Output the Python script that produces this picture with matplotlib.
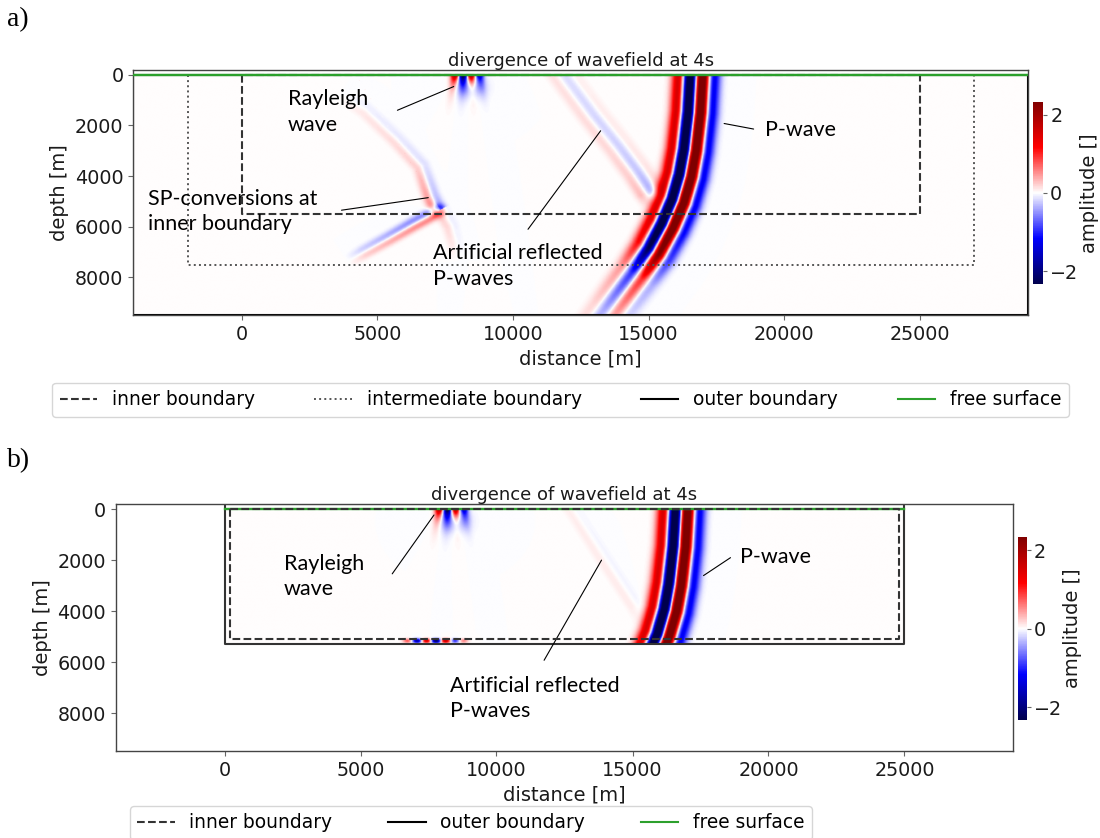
import numpy as np
import matplotlib
matplotlib.use("Agg")
import matplotlib.pyplot as plt
from matplotlib.lines import Line2D

# ---------------- model geometry (metres) ----------------
x_lim = (-4000, 29000)
z_lim = (9500, -190)
x_ticks = [0, 5000, 10000, 15000, 20000, 25000]
z_ticks = [0, 2000, 4000, 6000, 8000]
cbar_ticks = [-2, 0, 2]

# boundaries: (x0, x1, z0, z1)
inner_a = (0, 25000, 0, 5500)
intermediate_a = (-2000, 27000, 0, 7500)
outer_a = (-4000, 29000, 0, 9500)
inner_b = (200, 24800, 0, 5100)
outer_b = (0, 25000, -200, 5300)

# ---------------- wavefronts at t = 4 s ----------------
# direct P-wave centreline and strength along it
p_x = [16800, 16780, 16700, 16540, 16370, 16100, 15700, 15200, 14550, 13500, 13000]
p_z = [-400, 0, 1500, 3000, 4000, 5000, 6000, 7000, 8000, 9500, 10200]
p_strength = [1, 1, 1, 1, 1, 1, 0.95, 0.75, 0.3, 0.12, 0.08]
p_offsets = [-640, -215, 215, 640]
p_amps = [1.7, -3.4, 3.4, -1.4]

# S-wave arc reaching the inner boundary
s_x = [3600, 4550, 5710, 6615, 7000, 7200, 7350]
s_z = [800, 1400, 2580, 3630, 4830, 5300, 5600]
s_strength = [0, 0.12, 0.18, 0.25, 0.5, 0.7, 0]
s_offsets = [-150, 150]
s_amps = [0.9, -0.6]

# S-wave below the inner boundary
st_x = [7350, 7700, 7880, 7920]
st_z = [5400, 6000, 6700, 7400]
st_strength = [0.35, 0.3, 0.18, 0]
st_offsets = [-120, 150]
st_amps = [0.6, -0.25]

# SP conversions leaving the inner boundary
sp_x = [7250, 6300, 5400, 4500, 3900]
sp_z = [5400, 5950, 6500, 7030, 7400]
sp_strength = [0.8, 0.7, 0.5, 0.3, 0]
sp_offsets = [-130, 130]
sp_amps = [-0.75, 0.75]

# artificially reflected P-waves
rf_x = [11700, 12100, 13000, 13900, 14600, 15100, 15350]
rf_z = [-300, 300, 1600, 2800, 3800, 4600, 5100]
rf_strength = [0.3, 0.3, 0.35, 0.4, 0.5, 0.7, 0]
rf_offsets = [-400, 0, 350]
rf_amps = [0.45, -0.55, 0.25]

rfb_x = [12500, 12750, 13900, 15070, 15300]
rfb_z = [-300, 0, 1900, 3800, 4500]
rfb_strength = [0.25, 0.25, 0.3, 0.3, 0]
rfb_offsets = [-150, 150]
rfb_amps = [0.3, -0.15]

# Rayleigh wave lobes at the free surface
ray_x = [7880, 8170, 8460, 8760]
ray_amps = [2.4, -3.0, 2.6, -1.8]
ray_source_x = 8300

# waves trapped in the bottom absorbing layer (panel b)
strip_x = [6700, 7050, 7400, 7750, 8100, 8450, 8750]
strip_amps = [0.8, -1.8, 1.6, -2.3, 1.8, -1.0, 0.6]
strip_z = 5200

vmin, vmax = -2.33, 2.33


def front(X, Z, xs, zs, strength, offsets, amps, sigma=150.0):
    """Wavelet laid across a polyline front, signed distance to the line."""
    xs = np.asarray(xs, float)
    zs = np.asarray(zs, float)
    best = np.full(X.shape, np.inf)
    sd = np.zeros(X.shape)
    s_at = np.zeros(X.shape)
    seg = np.hypot(np.diff(xs), np.diff(zs))
    cum = np.concatenate([[0.0], np.cumsum(seg)])
    for i in range(len(xs) - 1):
        ax_, az_ = xs[i], zs[i]
        dx, dz = xs[i + 1] - ax_, zs[i + 1] - az_
        L2 = dx * dx + dz * dz
        t = np.clip(((X - ax_) * dx + (Z - az_) * dz) / L2, 0, 1)
        qx, qz = ax_ + t * dx, az_ + t * dz
        dist = np.hypot(X - qx, Z - qz)
        side = -np.sign(dx * (Z - az_) - dz * (X - ax_))
        m = dist < best
        best[m] = dist[m]
        sd[m] = (side * dist)[m]
        s_at[m] = (cum[i] + t * np.sqrt(L2))[m]
    w = np.interp(s_at, cum, strength)
    prof = np.zeros(X.shape)
    for o, a in zip(offsets, amps):
        prof += a * np.exp(-0.5 * ((sd - o) / sigma) ** 2)
    return w * prof


def rayleigh(X, Z):
    out = np.zeros(X.shape)
    Zp = np.clip(Z, 0, None)
    for xk, a in zip(ray_x, ray_amps):
        xc = ray_source_x + (xk - ray_source_x) * (1 + Zp / 2500.0)
        out += a * np.exp(-0.5 * ((X - xc) / 110.0) ** 2) * np.exp(-Zp / 330.0)
    out += -0.45 * np.exp(-0.5 * (((X - 8450) / 350.0) ** 2 + ((Z - 500) / 300.0) ** 2))
    return out


def strip(X, Z):
    out = np.zeros(X.shape)
    for xk, a in zip(strip_x, strip_amps):
        out += a * np.exp(-0.5 * ((X - xk) / 120.0) ** 2)
    return out * np.exp(-0.5 * ((Z - strip_z) / 60.0) ** 2)


# ---------------- grids ----------------
step = 30.0
xa = np.arange(outer_a[0], outer_a[1] + step, step)
za = np.arange(0, outer_a[3] + step, step)
XA, ZA = np.meshgrid(xa, za)
field_a = (front(XA, ZA, p_x, p_z, p_strength, p_offsets, p_amps, 185)
           + front(XA, ZA, s_x, s_z, s_strength, s_offsets, s_amps, 130)
           + front(XA, ZA, st_x, st_z, st_strength, st_offsets, st_amps, 130)
           + front(XA, ZA, sp_x, sp_z, sp_strength, sp_offsets, sp_amps, 110)
           + front(XA, ZA, rf_x, rf_z, rf_strength, rf_offsets, rf_amps, 150)
           + rayleigh(XA, ZA))

xb = np.arange(outer_b[0], outer_b[1] + step, step)
zb = np.arange(0, outer_b[3] + step, step)
XB, ZB = np.meshgrid(xb, zb)
field_b = (front(XB, ZB, p_x, p_z, p_strength, p_offsets, p_amps, 185)
           + front(XB, ZB, rfb_x, rfb_z, rfb_strength, rfb_offsets, rfb_amps, 130)
           + rayleigh(XB, ZB) + strip(XB, ZB))

# ---------------- figure ----------------
W, H = 1100, 838
fig = plt.figure(figsize=(W / 100, H / 100), dpi=100)


def px_rect(l, t, r, b):
    return [l / W, 1 - b / H, (r - l) / W, (b - t) / H]


ax_a = fig.add_axes(px_rect(133.3, 70, 1028.3, 315.3))
cax_a = fig.add_axes(px_rect(1032.7, 101.7, 1043.3, 284))
ax_b = fig.add_axes(px_rect(115.7, 504.3, 1013.3, 751.3))
cax_b = fig.add_axes(px_rect(1017.7, 537.3, 1027, 720))

TICK = 13.8
LAB = 14
ANN = dict(fontsize=15.5, family="Lato", color="black", linespacing=1.35)
LINE = dict(color="black", lw=0.8)
DARK = "#333333"


def rect(ax, b, **kw):
    x0, x1, z0, z1 = b
    ax.plot([x0, x0, x1, x1, x0], [z0, z1, z1, z0, z0], **kw)


def style(ax, title):
    ax.set_xlim(*x_lim)
    ax.set_ylim(*z_lim)
    ax.set_xticks(x_ticks)
    ax.set_yticks(z_ticks)
    ax.tick_params(labelsize=TICK, length=3.5, width=0.8, color="#666666",
                   labelcolor="#1a1a1a")
    for s in ax.spines.values():
        s.set_color("#444444")
        s.set_linewidth(1.0)
    ax.set_xlabel("distance [m]", fontsize=LAB, color="#1a1a1a")
    ax.set_ylabel("depth [m]", fontsize=LAB, color="#1a1a1a")
    ax.set_title(title, fontsize=13, pad=3, color="#1a1a1a")


def cbar(im, cax):
    cb = fig.colorbar(im, cax=cax, ticks=cbar_ticks)
    cb.outline.set_visible(False)
    cax.tick_params(labelsize=TICK, length=3, width=0.8, color="#666666",
                    labelcolor="#1a1a1a", pad=2)
    cb.set_label("amplitude []", fontsize=LAB, color="#1a1a1a", labelpad=1)
    return cb


# ---- panel a ----
im_a = ax_a.imshow(field_a, extent=(xa[0], xa[-1], za[-1], za[0]),
                   cmap="seismic", vmin=vmin, vmax=vmax, aspect="auto",
                   interpolation="bilinear", zorder=0)
rect(ax_a, inner_a, color=DARK, ls="--", lw=1.5, zorder=2)
rect(ax_a, intermediate_a, color="#555555", ls=":", lw=1.4, zorder=2)
rect(ax_a, outer_a, color="black", ls="-", lw=1.5, zorder=2)
ax_a.plot([outer_a[0], outer_a[1]], [0, 0], color="tab:green", lw=1.7, zorder=3)
style(ax_a, "divergence of wavefield at 4s")
cbar(im_a, cax_a)

ax_a.annotate("", xy=(7909, 421), xytext=(5644, 1443), arrowprops=dict(arrowstyle="-", **LINE))
ax_a.text(1705, 1471, "Rayleigh\nwave", ha="left", va="center", **ANN)
ax_a.annotate("", xy=(6977, 4837), xytext=(3575, 5364), arrowprops=dict(arrowstyle="-", **LINE))
ax_a.text(-3468, 5403, "SP-conversions at\ninner boundary", ha="left", va="center", **ANN)
ax_a.annotate("", xy=(13292, 2123), xytext=(10493, 6190), arrowprops=dict(arrowstyle="-", **LINE))
ax_a.text(7066, 7546, "Artificial reflected\nP-waves", ha="left", va="center", **ANN)
ax_a.annotate("", xy=(17684, 1903), xytext=(18973, 2163), arrowprops=dict(arrowstyle="-", **LINE))
ax_a.text(19304, 2190, "P-wave", ha="left", va="center", **ANN)

handles_a = [
    Line2D([], [], color=DARK, ls="--", lw=1.5, label="inner boundary"),
    Line2D([], [], color="#555555", ls=":", lw=1.4, label="intermediate boundary"),
    Line2D([], [], color="black", ls="-", lw=1.5, label="outer boundary"),
    Line2D([], [], color="tab:green", ls="-", lw=1.5, label="free surface"),
]
fig.legend(handles=handles_a, loc="upper center", bbox_to_anchor=(560.5 / W, 1 - 382.7 / H),
           borderaxespad=0, ncol=4, fontsize=13.4, columnspacing=3.2, handlelength=2.0,
           handletextpad=0.8)

# ---- panel b ----
im_b = ax_b.imshow(field_b, extent=(xb[0], xb[-1], zb[-1], zb[0]),
                   cmap="seismic", vmin=vmin, vmax=vmax, aspect="auto",
                   interpolation="bilinear", zorder=0)
rect(ax_b, outer_b, color=DARK, ls="-", lw=1.5, zorder=2)
ax_b.plot([outer_b[0], outer_b[1]], [0, 0], color="tab:green", lw=1.7, zorder=3)
rect(ax_b, inner_b, color=DARK, ls="--", lw=1.5, zorder=4)
style(ax_b, "divergence of wavefield at 4s")
cbar(im_b, cax_b)

ax_b.annotate("", xy=(7761, 141), xytext=(6107, 2627), arrowprops=dict(arrowstyle="-", **LINE))
ax_b.text(2184, 2639, "Rayleigh\nwave", ha="left", va="center", **ANN)
ax_b.annotate("", xy=(13912, 1906), xytext=(11699, 6024), arrowprops=dict(arrowstyle="-", **LINE))
ax_b.text(8301, 7424, "Artificial reflected\nP-waves", ha="left", va="center", **ANN)
ax_b.annotate("", xy=(17526, 2667), xytext=(18688, 1843), arrowprops=dict(arrowstyle="-", **LINE))
ax_b.text(18945, 1882, "P-wave", ha="left", va="center", **ANN)

handles_b = [
    Line2D([], [], color=DARK, ls="--", lw=1.5, label="inner boundary"),
    Line2D([], [], color="black", ls="-", lw=1.5, label="outer boundary"),
    Line2D([], [], color="tab:green", ls="-", lw=1.5, label="free surface"),
]
fig.legend(handles=handles_b, loc="upper center", bbox_to_anchor=(471 / W, 1 - 806 / H),
           borderaxespad=0, ncol=3, fontsize=13.4, columnspacing=3.0, handlelength=2.0,
           handletextpad=0.8)

# panel letters
fig.text(7 / W, 1 - 20 / H, "a)", family="Liberation Serif", fontsize=20, va="center", ha="left")
fig.text(7 / W, 1 - 461 / H, "b)", family="Liberation Serif", fontsize=20, va="center", ha="left")

fig.savefig("out.png", dpi=100)
